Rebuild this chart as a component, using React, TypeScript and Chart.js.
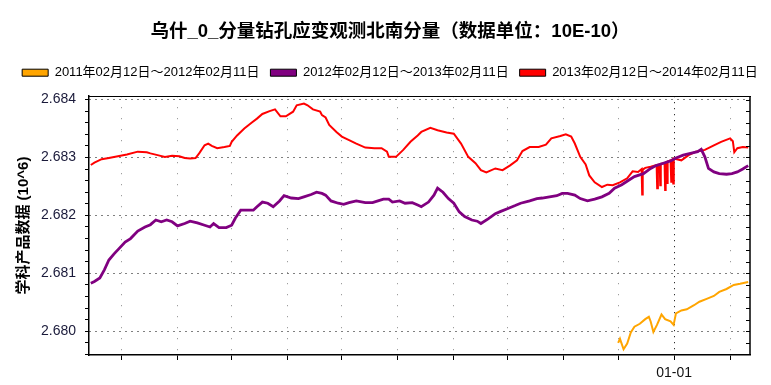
import React, { useEffect, useRef } from 'react';
import { Chart, registerables } from 'chart.js';

Chart.register(...registerables);

const FONT = "'Liberation Sans', Arial, 'Noto Sans CJK SC', sans-serif";

const chartTitle = '乌什_0_分量钻孔应变观测北南分量（数据单位：10E-10）';
const yAxisTitle = '学科产品数据 (10^6)';
const seriesLabels = [
  '2011年02月12日～2012年02月11日',
  '2012年02月12日～2013年02月11日',
  '2013年02月12日～2014年02月11日',
];
const seriesColors = ['#FFA500', '#800080', '#FF0000'];

// x = days since 02-12
const xMin = -1;
const xMax = 365;
const xTickDays = [17, 48, 78, 109, 139, 170, 201, 231, 262, 292, 323, 354];
const xTickLabels = ['', '', '', '', '', '', '', '', '', '', '01-01', ''];

const yMin = 2.679591;
const yMax = 2.684057;
const yTickValues = [
  2.6796, 2.6798, 2.68, 2.6802, 2.6804, 2.6806, 2.6808, 2.681, 2.6812, 2.6814, 2.6816, 2.6818,
  2.682, 2.6822, 2.6824, 2.6826, 2.6828, 2.683, 2.6832, 2.6834, 2.6836, 2.6838, 2.684,
];
const yTickLabels = [
  '', '', '2.680', '', '', '', '', '2.681', '', '', '', '',
  '2.682', '', '', '', '', '2.683', '', '', '', '', '2.684',
];

const orangeDays = [292, 293, 295, 297, 299, 301, 304, 307, 309, 310, 311.5, 313.5, 316, 318, 321, 322.7, 324, 327, 330, 334, 337, 341, 345, 348, 352, 356, 359.5, 364];
const orangeValues = [2.6798, 2.67987, 2.67969, 2.67979, 2.67998, 2.68008, 2.68013, 2.68021, 2.68025, 2.68017, 2.67999, 2.68011, 2.68029, 2.68021, 2.68017, 2.68011, 2.68031, 2.68036, 2.68038, 2.68045, 2.68051, 2.68056, 2.68061, 2.68068, 2.68073, 2.6808, 2.68082, 2.68085];

const purpleDays = [0, 2, 5, 7.5, 10, 13, 16, 19, 22, 26, 30, 33, 36, 39, 42, 45, 48, 52, 55, 59, 63, 66, 68, 71, 75, 78, 80, 83, 87, 90, 92, 95, 98, 101, 104.5, 107, 111, 115, 118, 122, 125, 128, 130, 133, 137, 140, 143, 147, 152, 156, 159, 162, 165, 167, 171, 174, 178, 181, 183, 187, 190, 192, 195, 198, 201, 204, 207, 211, 214, 216, 220, 224, 227, 231, 235, 238, 243, 247, 250, 254, 258, 261, 264, 268, 271, 275, 279, 283, 287, 290, 294, 298, 301, 306, 310, 313, 317, 321, 324, 328, 332, 336, 338, 340, 342, 345, 348, 352, 355, 358, 361, 364];
const purpleValues = [2.68083, 2.68086, 2.68092, 2.68106, 2.68123, 2.68134, 2.68144, 2.68154, 2.6816, 2.68173, 2.6818, 2.68184, 2.68192, 2.68189, 2.68192, 2.68189, 2.68182, 2.68186, 2.6819, 2.68187, 2.68183, 2.6818, 2.68186, 2.68179, 2.68179, 2.68183, 2.68195, 2.68209, 2.68209, 2.68209, 2.68215, 2.68223, 2.68221, 2.68215, 2.68225, 2.68234, 2.6823, 2.68229, 2.68232, 2.68236, 2.6824, 2.68238, 2.68235, 2.68225, 2.68221, 2.68219, 2.68222, 2.68225, 2.68222, 2.68222, 2.68225, 2.68228, 2.68228, 2.68223, 2.68225, 2.68221, 2.68222, 2.68218, 2.68215, 2.68223, 2.68235, 2.68247, 2.6824, 2.68229, 2.68221, 2.68206, 2.68198, 2.68192, 2.6819, 2.68186, 2.68194, 2.68203, 2.68207, 2.68212, 2.68217, 2.68221, 2.68225, 2.68229, 2.6823, 2.68232, 2.68234, 2.68238, 2.68238, 2.68235, 2.68229, 2.68225, 2.68228, 2.68232, 2.68238, 2.68247, 2.68253, 2.68261, 2.68267, 2.68272, 2.68281, 2.68286, 2.6829, 2.68294, 2.68299, 2.68304, 2.68307, 2.6831, 2.68314, 2.68301, 2.68281, 2.68275, 2.68272, 2.68271, 2.68272, 2.68275, 2.6828, 2.68286];

const redDays = [0, 2, 6, 10, 15, 20, 26, 31, 33, 37, 41, 45, 49, 52, 55, 58, 60, 63, 65, 67, 70, 74, 77, 78, 81, 85, 89, 92, 95, 99, 102, 105, 108, 112, 114, 118, 120, 123, 127, 128, 130, 132, 136, 139, 143, 147, 152, 157, 161, 164, 165, 169, 173, 177, 181, 183, 188, 192, 197, 201, 205, 209, 213, 216, 219, 224, 228, 232, 236, 239, 243, 248, 252, 255, 260, 263, 266, 268, 271, 274, 276, 279, 283, 286, 289, 293, 297, 300, 303, 305, 305.3, 305.6, 307, 310, 313.3, 313.6, 314, 315, 315.3, 315.6, 317.7, 318, 318.3, 318.8, 319.1, 319.4, 321, 321.4, 321.8, 322.2, 322.5, 322.8, 327, 331, 335, 340, 345, 349, 354, 355.5, 356.3, 358, 361, 364];
const redValues = [2.68287, 2.68291, 2.68297, 2.68299, 2.68302, 2.68305, 2.6831, 2.68309, 2.68307, 2.68304, 2.68301, 2.68303, 2.68302, 2.68299, 2.68298, 2.68299, 2.68307, 2.68321, 2.68324, 2.6832, 2.68316, 2.68318, 2.6832, 2.68327, 2.68338, 2.6835, 2.6836, 2.68367, 2.68375, 2.6838, 2.68383, 2.68371, 2.68371, 2.68379, 2.6839, 2.68393, 2.6839, 2.68383, 2.68379, 2.68373, 2.68369, 2.68356, 2.68344, 2.68336, 2.6833, 2.68324, 2.68317, 2.68316, 2.68316, 2.6831, 2.68301, 2.68301, 2.68313, 2.68327, 2.68338, 2.68344, 2.68351, 2.68347, 2.68343, 2.68341, 2.68324, 2.68301, 2.6829, 2.68278, 2.68274, 2.68281, 2.68278, 2.68286, 2.68295, 2.68311, 2.68318, 2.68318, 2.68322, 2.68333, 2.68337, 2.6834, 2.68336, 2.68324, 2.68301, 2.68288, 2.68269, 2.68257, 2.68249, 2.68253, 2.68252, 2.68257, 2.68264, 2.68276, 2.68275, 2.6828, 2.68236, 2.68279, 2.68282, 2.68284, 2.68287, 2.68247, 2.68287, 2.68288, 2.68252, 2.68289, 2.6829, 2.68244, 2.68291, 2.68292, 2.68256, 2.68293, 2.68295, 2.68258, 2.68296, 2.68297, 2.68255, 2.68298, 2.68295, 2.68304, 2.6831, 2.68313, 2.68321, 2.68327, 2.68333, 2.68328, 2.68309, 2.68316, 2.68318, 2.68317];

const toPoints = (days: number[], values: number[]) => days.map((d, i) => ({ x: d, y: values[i] }));

const framePlugin = {
  id: 'frame',
  afterDraw(chart: any) {
    const { ctx, chartArea, scales } = chart;
    const { right, top, bottom } = chartArea;
    ctx.save();
    ctx.strokeStyle = '#000';
    ctx.lineWidth = 1.5;
    const rx = Math.round(right);
    ctx.beginPath();
    ctx.moveTo(rx, top);
    ctx.lineTo(rx, bottom);
    ctx.stroke();
    ctx.lineWidth = 1;
    yTickValues.forEach((v) => {
      const py = Math.round(scales.y.getPixelForValue(v)) + 0.5;
      ctx.beginPath();
      ctx.moveTo(rx - 4, py);
      ctx.lineTo(rx, py);
      ctx.stroke();
    });
    ctx.restore();
  },
};

export default function App() {
  const ref = useRef<HTMLCanvasElement | null>(null);

  useEffect(() => {
    if (!ref.current) return;
    Chart.defaults.font.family = FONT;
    const chart = new Chart(ref.current, {
      type: 'line',
      data: {
        datasets: [
          {
            label: seriesLabels[0],
            data: toPoints(orangeDays, orangeValues),
            borderColor: seriesColors[0],
            backgroundColor: seriesColors[0],
            borderWidth: 2,
            pointRadius: 0,
            tension: 0,
          },
          {
            label: seriesLabels[1],
            data: toPoints(purpleDays, purpleValues),
            borderColor: seriesColors[1],
            backgroundColor: seriesColors[1],
            borderWidth: 2.8,
            pointRadius: 0,
            tension: 0,
          },
          {
            label: seriesLabels[2],
            data: toPoints(redDays, redValues),
            borderColor: seriesColors[2],
            backgroundColor: seriesColors[2],
            borderWidth: 2,
            pointRadius: 0,
            tension: 0,
          },
        ],
      },
      options: {
        animation: false,
        responsive: false,
        events: [],
        layout: { padding: { left: 9, right: 0, top: 0, bottom: 0 } },
        plugins: {
          tooltip: { enabled: false },
          title: {
            display: true,
            text: chartTitle,
            color: '#000',
            font: { size: 18.5, weight: 'bold', family: FONT },
            padding: { top: 21, bottom: 12 },
          },
          legend: {
            display: true,
            position: 'top',
            labels: {
              boxWidth: 26,
              boxHeight: 7,
              padding: 11,
              color: '#000',
              font: { size: 13, family: FONT },
              generateLabels: (c: any) =>
                c.data.datasets.map((ds: any, i: number) => ({
                  text: ds.label,
                  fillStyle: ds.backgroundColor,
                  strokeStyle: '#000',
                  lineWidth: 1,
                  hidden: false,
                  datasetIndex: i,
                  fontColor: '#000',
                })),
            },
          },
        },
        scales: {
          x: {
            type: 'linear',
            position: 'bottom',
            min: xMin,
            max: xMax,
            afterBuildTicks: (s: any) => {
              s.ticks = xTickDays.map((v) => ({ value: v }));
            },
            afterFit: (s: any) => {
              s.height = 30;
            },
            ticks: {
              autoSkip: false,
              maxRotation: 0,
              padding: 5,
              color: '#111',
              font: { size: 14, family: FONT },
              callback: (_v: any, i: number) => xTickLabels[i],
            },
            grid: {
              color: (c: any) => (c.tick && c.tick.value === 323 ? '#000' : '#888'),
              tickColor: '#000',
              tickLength: 5,
              lineWidth: 1,
            },
            border: {
              display: true,
              color: '#000',
              width: 1.5,
              dash: (c: any) => (c.tick && c.tick.value === 323 ? [1, 5] : [1, 10]),
            },
          },
          x2: {
            type: 'linear',
            position: 'top',
            min: xMin,
            max: xMax,
            ticks: { display: false },
            grid: { display: false, drawTicks: false },
            border: { display: true, color: '#000', width: 1 },
            afterFit: (s: any) => {
              s.height = 7;
            },
          },
          y: {
            type: 'linear',
            position: 'left',
            min: yMin,
            max: yMax,
            afterBuildTicks: (s: any) => {
              s.ticks = yTickValues.map((v) => ({ value: v }));
            },
            afterFit: (s: any) => {
              s.width = 80;
            },
            title: {
              display: true,
              text: yAxisTitle,
              color: '#000',
              font: { size: 15, weight: 'bold', family: FONT },
              padding: { top: 6, bottom: 0 },
            },
            ticks: {
              autoSkip: false,
              padding: 9,
              color: '#1a1a3a',
              font: { size: 14, family: FONT },
              callback: (_v: any, i: number) => yTickLabels[i],
            },
            grid: {
              color: (c: any) => (yTickLabels[c.index] ? '#000' : 'rgba(0,0,0,0)'),
              tickColor: '#000',
              tickLength: 4,
              lineWidth: 1,
            },
            border: { display: true, color: '#000', width: 1.5, dash: [1, 5] },
          },
          y2: {
            type: 'linear',
            position: 'right',
            min: yMin,
            max: yMax,
            ticks: { display: false },
            grid: { display: false, drawTicks: false },
            border: { display: false },
            afterFit: (s: any) => {
              s.width = 21;
            },
          },
        },
      },
      plugins: [framePlugin],
    } as any);
    return () => chart.destroy();
  }, []);

  return (
    <div style={{ position: 'absolute', left: 0, top: 0, width: 771, height: 385, background: '#fff' }}>
      <canvas ref={ref} width={771} height={385} style={{ width: 771, height: 385, display: 'block' }} />
    </div>
  );
}
